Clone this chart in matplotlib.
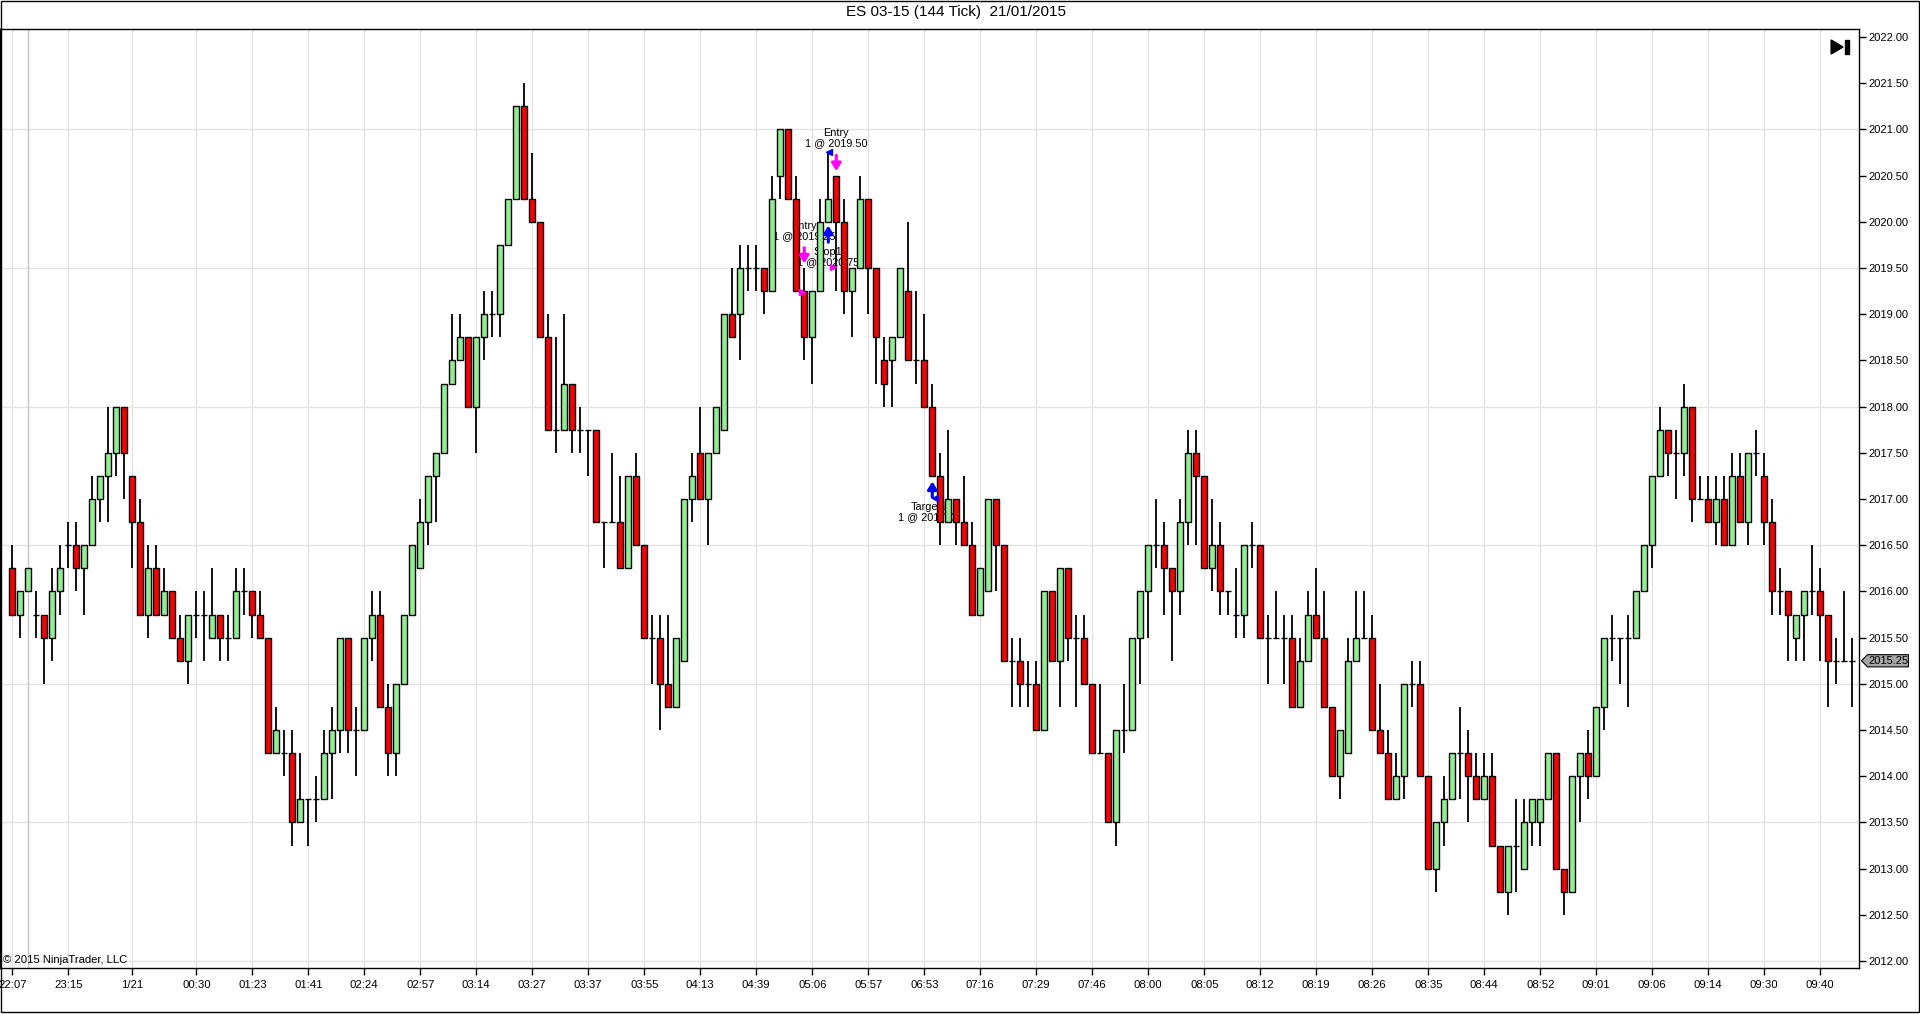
import matplotlib
matplotlib.use('Agg')
import matplotlib.pyplot as plt
import matplotlib.transforms as mtransforms
from matplotlib.patches import Polygon, Rectangle

plt.rcParams['font.family'] = ['Liberation Sans', 'DejaVu Sans']

# ES 03-15, 144 tick bars, OHLC
opens = [
    2016.25, 2015.75, 2016.0, 2015.75, 2015.75, 2015.5, 2016.0, 2016.5, 2016.5, 2016.25,
    2016.5, 2017.0, 2017.25, 2017.5, 2018.0, 2017.25, 2016.75, 2015.75, 2016.25, 2015.75,
    2016.0, 2015.5, 2015.25, 2015.75, 2015.75, 2015.5, 2015.75, 2015.5, 2015.5, 2016.0,
    2016.0, 2015.75, 2015.5, 2014.25, 2014.25, 2014.25, 2013.5, 2013.75, 2013.75, 2013.75,
    2014.25, 2014.5, 2015.5, 2014.5, 2014.5, 2015.5, 2015.75, 2014.75, 2014.25, 2015.0,
    2015.75, 2016.25, 2016.75, 2017.25, 2017.5, 2018.25, 2018.5, 2018.75, 2018.0, 2018.75,
    2019.0, 2019.0, 2019.75, 2020.25, 2021.25, 2020.25, 2020.0, 2018.75, 2017.75, 2017.75,
    2018.25, 2017.75, 2017.75, 2017.75, 2016.75, 2016.75, 2016.75, 2016.25, 2017.25, 2016.5,
    2015.5, 2015.5, 2015.0, 2014.75, 2015.25, 2017.0, 2017.5, 2017.0, 2017.5, 2017.75,
    2019.0, 2019.0, 2019.5, 2019.5, 2019.5, 2019.25, 2020.5, 2021.0, 2020.25, 2019.25,
    2018.75, 2019.25, 2020.0, 2020.5, 2020.0, 2019.25, 2019.5, 2020.25, 2019.5, 2018.5,
    2018.5, 2018.75, 2019.25, 2018.5, 2018.5, 2018.0, 2017.25, 2016.75, 2017.0, 2016.75,
    2016.5, 2015.75, 2016.0, 2017.0, 2016.5, 2015.25, 2015.25, 2015.0, 2015.0, 2014.5,
    2016.0, 2015.25, 2016.25, 2015.5, 2015.5, 2015.0, 2014.25, 2014.25, 2013.5, 2014.5,
    2014.5, 2015.5, 2016.0, 2016.5, 2016.5, 2016.25, 2016.0, 2016.75, 2017.5, 2017.25,
    2016.25, 2016.5, 2016.0, 2015.75, 2015.75, 2016.5, 2016.5, 2015.5, 2015.5, 2015.5,
    2015.5, 2014.75, 2015.25, 2015.75, 2015.5, 2014.75, 2014.0, 2014.25, 2015.25, 2015.5,
    2015.5, 2014.5, 2014.25, 2013.75, 2014.0, 2015.0, 2015.0, 2014.0, 2013.0, 2013.5,
    2013.75, 2014.25, 2014.25, 2014.0, 2013.75, 2014.0, 2013.25, 2012.75, 2013.25, 2013.0,
    2013.5, 2013.5, 2013.75, 2014.25, 2013.0, 2012.75, 2014.0, 2014.25, 2014.0, 2014.75,
    2015.5, 2015.5, 2015.5, 2015.5, 2016.0, 2016.5, 2017.25, 2017.75, 2017.5, 2017.5,
    2018.0, 2017.0, 2017.0, 2016.75, 2017.0, 2016.5, 2017.25, 2016.75, 2017.5, 2017.25,
    2016.75, 2016.0, 2016.0, 2015.5, 2015.75, 2016.0, 2016.0, 2015.75, 2015.25, 2015.25,
    2015.25,
]
highs = [
    2016.5, 2016.0, 2016.25, 2016.0, 2015.75, 2016.25, 2016.5, 2016.75, 2016.75, 2016.5,
    2017.25, 2017.25, 2018.0, 2018.0, 2018.0, 2017.25, 2017.0, 2016.5, 2016.5, 2016.25,
    2016.0, 2015.75, 2015.75, 2016.0, 2016.0, 2016.25, 2015.75, 2015.75, 2016.25, 2016.25,
    2016.0, 2016.0, 2015.5, 2014.75, 2014.5, 2014.5, 2014.25, 2013.75, 2014.0, 2014.5,
    2014.75, 2015.5, 2015.5, 2014.75, 2015.5, 2016.0, 2016.0, 2015.0, 2015.0, 2015.75,
    2016.5, 2017.0, 2017.25, 2017.5, 2018.25, 2019.0, 2019.0, 2018.75, 2018.75, 2019.25,
    2019.25, 2019.75, 2020.25, 2021.25, 2021.5, 2020.75, 2020.0, 2019.0, 2018.75, 2019.0,
    2018.25, 2018.0, 2017.75, 2017.75, 2016.75, 2017.5, 2017.25, 2017.25, 2017.5, 2016.5,
    2015.75, 2015.75, 2015.75, 2015.5, 2017.0, 2017.5, 2018.0, 2017.5, 2018.0, 2019.0,
    2019.5, 2019.75, 2019.75, 2019.75, 2019.5, 2020.5, 2021.0, 2021.0, 2020.5, 2019.5,
    2019.25, 2020.25, 2020.75, 2020.5, 2020.25, 2019.5, 2020.5, 2020.25, 2019.5, 2018.75,
    2018.75, 2019.5, 2020.0, 2019.25, 2019.0, 2018.25, 2017.5, 2017.75, 2017.0, 2017.25,
    2016.75, 2016.25, 2017.0, 2017.0, 2016.5, 2015.5, 2015.5, 2015.25, 2015.25, 2016.0,
    2016.0, 2016.25, 2016.25, 2015.75, 2015.75, 2015.0, 2015.0, 2014.25, 2014.5, 2015.0,
    2015.5, 2016.0, 2016.5, 2017.0, 2016.75, 2016.25, 2017.0, 2017.75, 2017.75, 2017.25,
    2017.0, 2016.75, 2016.0, 2016.25, 2016.5, 2016.75, 2016.5, 2015.75, 2016.0, 2015.75,
    2015.75, 2015.5, 2016.0, 2016.25, 2016.0, 2014.75, 2014.5, 2015.5, 2016.0, 2016.0,
    2015.75, 2015.0, 2014.5, 2014.25, 2015.0, 2015.25, 2015.25, 2014.0, 2013.5, 2014.0,
    2014.25, 2014.75, 2014.5, 2014.25, 2014.25, 2014.25, 2013.25, 2013.25, 2013.75, 2013.75,
    2013.75, 2013.75, 2014.25, 2014.25, 2013.0, 2014.0, 2014.25, 2014.5, 2014.75, 2015.5,
    2015.75, 2015.5, 2015.75, 2016.0, 2016.5, 2017.25, 2018.0, 2017.75, 2017.75, 2018.25,
    2018.0, 2017.25, 2017.25, 2017.25, 2017.25, 2017.5, 2017.5, 2017.5, 2017.75, 2017.5,
    2017.0, 2016.25, 2016.0, 2015.75, 2016.0, 2016.5, 2016.25, 2015.75, 2015.5, 2016.0,
    2015.5,
]
lows = [
    2015.75, 2015.5, 2016.0, 2015.5, 2015.0, 2015.25, 2015.75, 2016.25, 2016.0, 2015.75,
    2016.5, 2016.75, 2016.75, 2017.25, 2017.0, 2016.25, 2015.75, 2015.5, 2015.75, 2015.75,
    2015.5, 2015.25, 2015.0, 2015.5, 2015.25, 2015.5, 2015.25, 2015.25, 2015.5, 2015.75,
    2015.5, 2015.5, 2014.25, 2014.25, 2014.0, 2013.25, 2013.5, 2013.25, 2013.5, 2013.75,
    2013.75, 2014.25, 2014.25, 2014.0, 2014.5, 2015.25, 2014.75, 2014.0, 2014.0, 2015.0,
    2015.75, 2016.25, 2016.5, 2016.75, 2017.5, 2018.25, 2018.5, 2018.0, 2017.5, 2018.5,
    2018.75, 2018.75, 2019.75, 2020.25, 2020.25, 2020.0, 2018.75, 2017.75, 2017.5, 2017.75,
    2017.5, 2017.5, 2017.25, 2016.75, 2016.25, 2016.75, 2016.25, 2016.25, 2016.5, 2015.5,
    2015.0, 2014.5, 2014.75, 2014.75, 2015.25, 2016.75, 2017.0, 2016.5, 2017.5, 2017.75,
    2018.75, 2018.5, 2019.25, 2019.25, 2019.0, 2019.25, 2020.25, 2020.25, 2019.25, 2018.5,
    2018.25, 2019.25, 2020.0, 2019.25, 2019.0, 2018.75, 2019.5, 2019.0, 2018.25, 2018.0,
    2018.0, 2018.75, 2018.5, 2018.25, 2018.0, 2017.25, 2016.5, 2016.75, 2016.5, 2016.5,
    2015.75, 2015.75, 2016.0, 2016.0, 2015.25, 2014.75, 2014.75, 2014.75, 2014.5, 2014.5,
    2015.25, 2014.75, 2015.25, 2014.75, 2015.0, 2014.25, 2014.25, 2013.5, 2013.25, 2014.25,
    2014.5, 2015.0, 2015.5, 2016.25, 2015.75, 2015.25, 2015.75, 2016.5, 2016.5, 2016.25,
    2016.0, 2015.75, 2015.75, 2015.5, 2015.5, 2016.25, 2015.5, 2015.0, 2015.5, 2015.0,
    2014.75, 2014.75, 2015.25, 2015.5, 2014.75, 2014.0, 2013.75, 2014.25, 2015.25, 2015.5,
    2014.5, 2014.25, 2013.75, 2013.75, 2013.75, 2014.75, 2014.0, 2013.0, 2012.75, 2013.25,
    2013.75, 2013.75, 2013.5, 2013.75, 2013.75, 2013.25, 2012.75, 2012.5, 2012.75, 2013.0,
    2013.25, 2013.25, 2013.75, 2013.0, 2012.5, 2012.75, 2013.5, 2013.75, 2014.0, 2014.5,
    2015.25, 2015.0, 2014.75, 2015.5, 2016.0, 2016.25, 2017.25, 2017.25, 2017.0, 2017.25,
    2016.75, 2017.0, 2016.75, 2016.5, 2016.5, 2016.5, 2016.75, 2016.5, 2017.25, 2016.5,
    2015.75, 2015.75, 2015.25, 2015.25, 2015.25, 2015.75, 2015.25, 2014.75, 2015.0, 2015.25,
    2014.75,
]
closes = [
    2015.75, 2016.0, 2016.25, 2015.75, 2015.5, 2016.0, 2016.25, 2016.5, 2016.25, 2016.5,
    2017.0, 2017.25, 2017.5, 2018.0, 2017.5, 2016.75, 2015.75, 2016.25, 2015.75, 2016.0,
    2015.5, 2015.25, 2015.75, 2015.75, 2015.75, 2015.75, 2015.5, 2015.5, 2016.0, 2016.0,
    2015.75, 2015.5, 2014.25, 2014.5, 2014.25, 2013.5, 2013.75, 2013.75, 2013.75, 2014.25,
    2014.5, 2015.5, 2014.5, 2014.5, 2015.5, 2015.75, 2014.75, 2014.25, 2015.0, 2015.75,
    2016.5, 2016.75, 2017.25, 2017.5, 2018.25, 2018.5, 2018.75, 2018.0, 2018.75, 2019.0,
    2019.0, 2019.75, 2020.25, 2021.25, 2020.25, 2020.0, 2018.75, 2017.75, 2017.75, 2018.25,
    2017.75, 2017.75, 2017.75, 2016.75, 2016.75, 2016.75, 2016.25, 2017.25, 2016.5, 2015.5,
    2015.5, 2015.0, 2014.75, 2015.5, 2017.0, 2017.25, 2017.0, 2017.5, 2018.0, 2019.0,
    2018.75, 2019.5, 2019.5, 2019.5, 2019.25, 2020.25, 2021.0, 2020.25, 2019.25, 2018.75,
    2019.25, 2020.0, 2020.25, 2020.0, 2019.25, 2019.5, 2020.25, 2019.5, 2018.75, 2018.25,
    2018.75, 2019.5, 2018.5, 2018.5, 2018.0, 2017.25, 2016.75, 2017.0, 2016.75, 2016.5,
    2015.75, 2016.25, 2017.0, 2016.5, 2015.25, 2015.25, 2015.0, 2015.0, 2014.5, 2016.0,
    2015.25, 2016.25, 2015.5, 2015.5, 2015.0, 2014.25, 2014.25, 2013.5, 2014.5, 2014.5,
    2015.5, 2016.0, 2016.5, 2016.5, 2016.25, 2016.0, 2016.75, 2017.5, 2017.25, 2016.25,
    2016.5, 2016.0, 2016.0, 2015.75, 2016.5, 2016.5, 2015.5, 2015.5, 2015.5, 2015.5,
    2014.75, 2015.25, 2015.75, 2015.5, 2014.75, 2014.0, 2014.5, 2015.25, 2015.5, 2015.5,
    2014.5, 2014.25, 2013.75, 2014.0, 2015.0, 2015.0, 2014.0, 2013.0, 2013.5, 2013.75,
    2014.25, 2014.25, 2014.0, 2013.75, 2014.0, 2013.25, 2012.75, 2013.25, 2013.25, 2013.5,
    2013.75, 2013.75, 2014.25, 2013.0, 2012.75, 2014.0, 2014.25, 2014.0, 2014.75, 2015.5,
    2015.5, 2015.5, 2015.5, 2016.0, 2016.5, 2017.25, 2017.75, 2017.5, 2017.5, 2018.0,
    2017.0, 2017.0, 2016.75, 2017.0, 2016.5, 2017.25, 2016.75, 2017.5, 2017.5, 2016.75,
    2016.0, 2016.0, 2015.75, 2015.75, 2016.0, 2016.0, 2015.75, 2015.25, 2015.25, 2015.25,
    2015.25,
]

# time axis labels and the bars they sit on
tick_bars = [0, 7, 15, 23, 30, 37, 44, 51, 58, 65, 72, 79, 86, 93, 100, 107, 114,
             121, 128, 135, 142, 149, 156, 163, 170, 177, 184, 191, 198, 205, 212, 219, 226]
tick_labels = ['22:07', '23:15', '1/21', '00:30', '01:23', '01:41', '02:24', '02:57',
               '03:14', '03:27', '03:37', '03:55', '04:13', '04:39', '05:06', '05:57',
               '06:53', '07:16', '07:29', '07:46', '08:00', '08:05', '08:12', '08:19',
               '08:26', '08:35', '08:44', '08:52', '09:01', '09:06', '09:14', '09:30', '09:40']

# trade markers: (label, bar, price)
trade_texts = [
    ('Entry\n1 @ 2019.50', 103.0, 2020.91),
    ('Entry\n1 @ 2019.25', 99.0, 2019.90),
    ('Stop1\n1 @ 2020.75', 102.0, 2019.62),
    ('Target1\n1 @ 2017.00', 114.6, 2016.86),
]
buy_arrows = [(102, 2019.78, 2019.96), (115, 2017.02, 2017.19)]
sell_arrows = [(103, 2020.72, 2020.55), (99, 2019.72, 2019.55)]
buy_fills = [(102.05, 2020.76), (115.3, 2017.01)]
sell_fills = [(98.65, 2019.24), (102.6, 2019.51)]
last_price = 2015.25

W, H = 1920, 1014
fig = plt.figure(figsize=(W / 100, H / 100), dpi=100)
ax = fig.add_axes([0, 46 / H, 1859 / W, (968 - 29.4) / H])

x = list(range(len(closes)))
body_bottom = [min(o, c) for o, c in zip(opens, closes)]
body_height = [abs(c - o) for o, c in zip(opens, closes)]
colors = []
for o, c in zip(opens, closes):
    if c > o:
        colors.append('#90ee90')
    elif c < o:
        colors.append('#ff0000')
    else:
        colors.append('white')

ax.vlines(x, lows, highs, color='black', linewidth=1.3, zorder=2)
ax.bar(x, body_height, bottom=body_bottom, width=0.72, color=colors,
       edgecolor='black', linewidth=1.0, zorder=3)

# grid: every 1.5 points horizontally, at the time labels vertically
for level in [2012.0, 2013.5, 2015.0, 2016.5, 2018.0, 2019.5, 2021.0]:
    ax.axhline(level, color='#e2e2e2', linewidth=1, zorder=0)
for b in tick_bars:
    ax.axvline(b, color='#e2e2e2', linewidth=1, zorder=0)
ax.axvline(2, color='#c4c4c4', linewidth=1, zorder=0)

ax.set_xlim(-1.54, 230.84)
ax.set_ylim(2011.925, 2022.083)

ax.set_xticks(tick_bars)
ax.set_xticklabels(tick_labels)
yt = [2012 + 0.5 * k for k in range(21)]
ax.set_yticks(yt)
ax.set_yticklabels(['%.2f' % v for v in yt])
ax.yaxis.tick_right()
ax.tick_params(axis='both', direction='out', length=5, width=1,
               colors='black', pad=2)
ax.tick_params(axis='x', pad=4, labelsize=8.2)
ax.tick_params(axis='y', labelsize=8.0)
for s in ax.spines.values():
    s.set_color('black')
    s.set_linewidth(1)

# trade annotations
for label, bx, py in trade_texts:
    ax.text(bx, py, label, ha='center', va='center', fontsize=7.8,
            linespacing=1.05, zorder=1)
for bx, y0, y1 in buy_arrows:
    ax.annotate('', xy=(bx, y1), xytext=(bx, y0), zorder=5,
                arrowprops=dict(arrowstyle='-|>,head_width=0.28,head_length=0.45',
                                color='#0000ff', lw=2.2, shrinkA=0, shrinkB=0))
for bx, y0, y1 in sell_arrows:
    ax.annotate('', xy=(bx, y1), xytext=(bx, y0), zorder=5,
                arrowprops=dict(arrowstyle='-|>,head_width=0.28,head_length=0.45',
                                color='#ff00ff', lw=2.2, shrinkA=0, shrinkB=0))
for bx, py in buy_fills:
    ax.plot(bx, py, marker='<', color='#0000ff', markersize=5, zorder=5)
for bx, py in sell_fills:
    ax.plot(bx, py, marker='>', color='#ff00ff', markersize=5, zorder=5)

ax.text(0.0018, 0.003, '\u00a9 2015 NinjaTrader, LLC', transform=ax.transAxes,
        fontsize=8.1, ha='left', va='bottom', zorder=6)

# "go to last bar" icon top right
ax.add_patch(Polygon([(0.9850, 0.9887), (0.9850, 0.9738), (0.9914, 0.9812)],
                     closed=True, transform=ax.transAxes, color='black', zorder=6))
ax.add_patch(Rectangle((0.9925, 0.9738), 0.0021, 0.0149, transform=ax.transAxes,
                       color='black', zorder=6))

# last price flag on the price axis
tr = mtransforms.blended_transform_factory(ax.transAxes, ax.transData)
dy = 0.066
flag = Polygon([(1.0013, last_price), (1.0046, last_price + dy), (1.0266, last_price + dy),
                (1.0266, last_price - dy), (1.0046, last_price - dy)],
               closed=True, transform=tr, facecolor='#a6a6a6', edgecolor='black',
               linewidth=0.8, clip_on=False, zorder=6)
ax.add_patch(flag)
ax.text(1.0158, last_price, '%.2f' % last_price, transform=tr, ha='center', va='center',
        fontsize=8.0, clip_on=False, zorder=7)

fig.text(956 / W, 1 - 12 / H, 'ES 03-15 (144 Tick)  21/01/2015', ha='center',
         va='center', fontsize=11)
fig.add_artist(Rectangle((0.0003, 0.0015), 0.9992, 0.998, transform=fig.transFigure,
                         fill=False, edgecolor='black', linewidth=1))

fig.savefig('out.png', dpi=100)
